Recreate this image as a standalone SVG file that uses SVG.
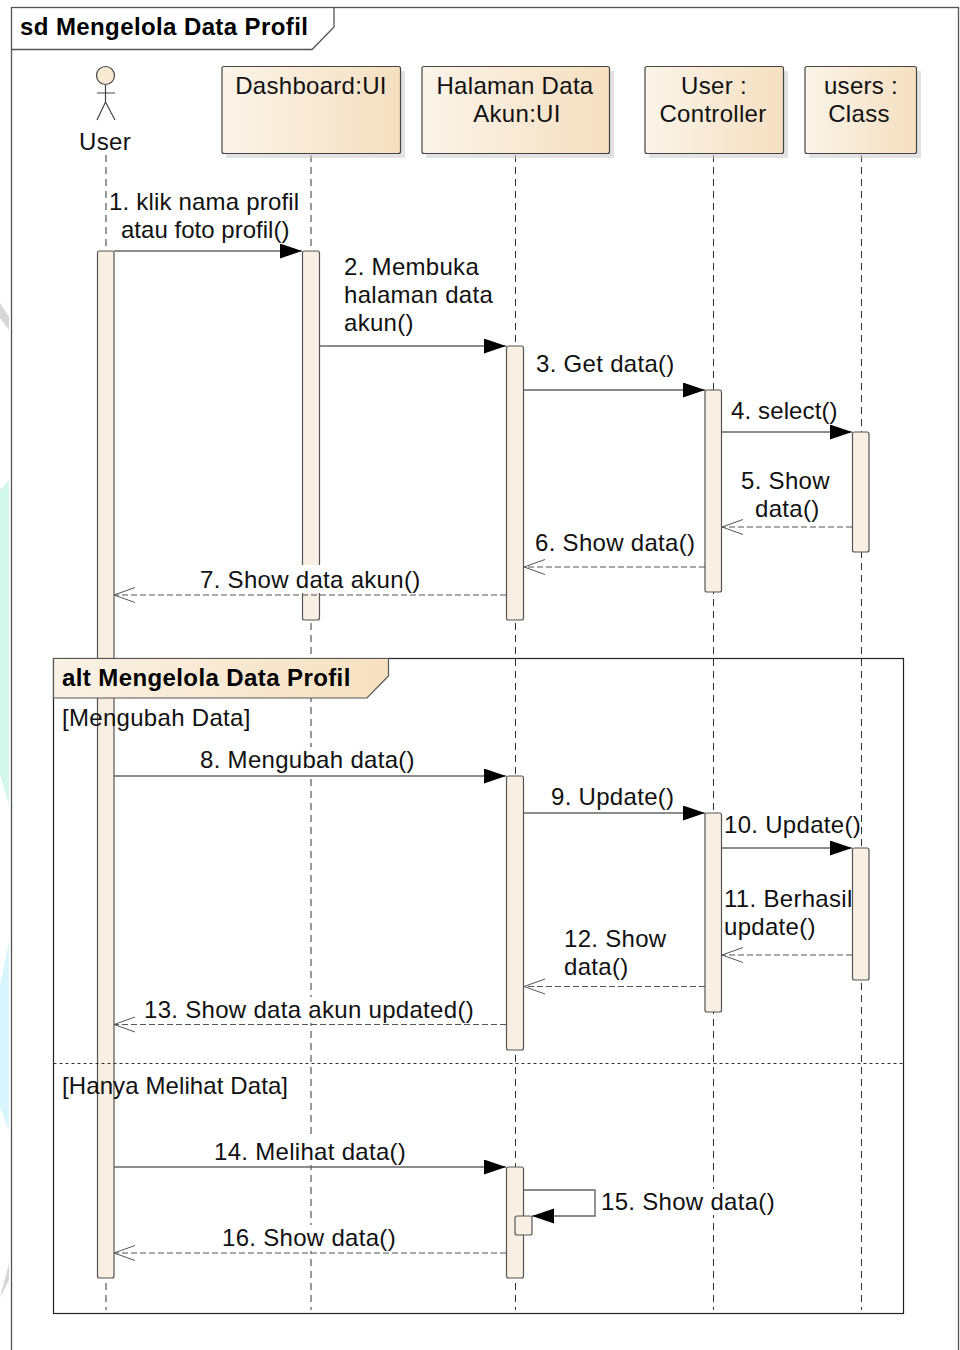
<svg xmlns="http://www.w3.org/2000/svg" width="960" height="1350" viewBox="0 0 960 1350">
<style>
text{font-family:"Liberation Sans",Arial,sans-serif;font-size:24px;letter-spacing:.3px;fill:#111}
.m{text-anchor:middle}
.b{font-weight:bold;font-size:24px;letter-spacing:.4px;fill:#000}
.ll{stroke:#333;stroke-width:1;stroke-dasharray:7 5;fill:none}
.head{stroke:#444;stroke-width:1.2;fill:url(#hg)}
.sh{fill:#cfcfcf;opacity:.6}
.ac{fill:#f9f0e3;stroke:#555;stroke-width:1.2}
.sync{stroke:#666;stroke-width:1.4;fill:none;marker-end:url(#fa)}
.ret{stroke:#555;stroke-width:1.1;stroke-dasharray:6 3;fill:none;marker-end:url(#oa)}
.fr{stroke:#555;stroke-width:1.3;fill:none}
.wb{fill:#fff}
</style>
<defs>
<linearGradient id="hg" x1="0" x2="1" y1="0" y2="0"><stop offset="0" stop-color="#fbf4e9"/><stop offset="1" stop-color="#f5dfc0"/></linearGradient>
<linearGradient id="ag" x1="0" x2="1" y1="0" y2="0"><stop offset="0" stop-color="#faf2e6"/><stop offset="1" stop-color="#f6e0c0"/></linearGradient>
<marker id="fa" markerUnits="userSpaceOnUse" markerWidth="24" markerHeight="16" refX="22" refY="7.500" orient="auto"><path d="M0 0L22 7.500L0 15Z" fill="#000"/></marker>
<marker id="oa" markerUnits="userSpaceOnUse" markerWidth="24" markerHeight="18" refX="22" refY="8" orient="auto"><path d="M1 0.500L22 8L1 15.500" fill="none" stroke="#555" stroke-width="1"/></marker>
</defs>
<rect width="960" height="1350" fill="#fff"/>
<g id="background">
<path d="M0 303L9 317V330L0 318Z" fill="#d6d6d6"/>
<path d="M0 490L9 480V805L0 775Z" fill="#d2f7ea"/>
<path d="M0 985L9 942V1130L0 1108Z" fill="#d8f5fe"/>
<path d="M0 1298L9 1263V1280L0 1298Z" fill="#d6d6d6"/>
</g>
<g id="frame">
<rect x="11.500" y="7.500" width="947" height="1350" class="fr"/>
<path d="M11.500 49.500H312L334 27V7.500" class="fr"/>
<text x="20" y="35" class="b">sd Mengelola Data Profil</text>
</g>
<g id="lifelines">
<path class="ll" d="M106 155V1310M311 155V1310M515.500 155V1310M713.500 155V1310M861.500 155V1310"/>
</g>
<g id="actor-user">
<circle cx="105.500" cy="75.500" r="9" fill="#f8e9d3" stroke="#444" stroke-width="1.200"/>
<path d="M105.500 85V102M97 93H115M97 120L105.500 102L115 120" fill="none" stroke="#444" stroke-width="1.200"/>
<text x="105" y="150" class="m">User</text>
</g>
<g id="obj-dashboard">
<rect x="226" y="71" width="179" height="87" class="sh"/>
<rect x="222" y="66.500" width="178.500" height="87" rx="2" class="head"/>
<text x="311" y="94" class="m">Dashboard:UI</text>
</g>
<g id="obj-halaman">
<rect x="426" y="71" width="188" height="87" class="sh"/>
<rect x="422" y="66.500" width="187.500" height="87" rx="2" class="head"/>
<text x="515" y="94" class="m">Halaman Data</text><text x="517" y="122" class="m">Akun:UI</text>
</g>
<g id="obj-controller">
<rect x="649" y="71" width="139" height="87" class="sh"/>
<rect x="645" y="66.500" width="138.500" height="87" rx="2" class="head"/>
<text x="714" y="94" class="m">User :</text><text x="713" y="122" class="m">Controller</text>
</g>
<g id="obj-class">
<rect x="809" y="71" width="112" height="87" class="sh"/>
<rect x="805" y="66.500" width="111.500" height="87" rx="2" class="head"/>
<text x="861" y="94" class="m">users :</text><text x="859" y="122" class="m">Class</text>
</g>
<g id="activations">
<rect x="97.500" y="251" width="16.500" height="1027" rx="2" class="ac"/>
<rect x="302.500" y="251" width="17" height="369" rx="2" class="ac"/>
<rect x="506.500" y="346" width="17" height="274" rx="2" class="ac"/>
<rect x="705" y="390" width="16.500" height="202" rx="2" class="ac"/>
<rect x="852.500" y="432" width="16.500" height="120" rx="2" class="ac"/>
</g>
<g id="alt-fragment">
<rect x="53.500" y="658.500" width="850" height="655" fill="none" stroke="#222" stroke-width="1.200"/>
<path d="M53.500 658.500H388.500V676L367 698H53.500Z" fill="url(#ag)" stroke="#555" stroke-width="1.200"/>
<text x="62" y="686" class="b">alt Mengelola Data Profil</text>
<path d="M53.500 1063.500H903.500" stroke="#333" stroke-dasharray="3 3" fill="none"/>
<text x="62" y="726">[Mengubah Data]</text>
<text x="62" y="1094" style="letter-spacing:.1px">[Hanya Melihat Data]</text>
</g>
<g id="activations-alt">
<rect x="506.500" y="776" width="17" height="274" rx="2" class="ac"/>
<rect x="705" y="813" width="16.500" height="199" rx="2" class="ac"/>
<rect x="852.500" y="848" width="16.500" height="132" rx="2" class="ac"/>
<rect x="506.500" y="1167" width="17" height="111" rx="2" class="ac"/>
<rect x="515" y="1216" width="17" height="19" rx="2" class="ac"/>
</g>
<g id="label-backs">
<rect class="wb" x="200" y="565" width="220" height="28"/>
<rect class="wb" x="200" y="747" width="216" height="27"/>
<rect class="wb" x="144" y="997" width="330" height="26"/>
<rect class="wb" x="214" y="1139" width="192" height="26"/>
<rect class="wb" x="222" y="1225" width="173" height="26"/>
<rect class="wb" x="601" y="1189" width="173" height="26"/>
</g>
<g id="connectors">
<path class="sync" d="M114 251H302"/>
<path class="sync" d="M320 346H506"/>
<path class="sync" d="M524 390H705"/>
<path class="sync" d="M722 432H852"/>
<path class="ret" d="M852 527H722"/>
<path class="ret" d="M705 567H524"/>
<path class="ret" d="M506 595H114"/>
<path class="sync" d="M114 776H506"/>
<path class="sync" d="M524 813H705"/>
<path class="sync" d="M722 848H852"/>
<path class="ret" d="M852 955H722"/>
<path class="ret" d="M705 986.500H524"/>
<path class="ret" d="M506 1024.500H114"/>
<path class="sync" d="M114 1167H506"/>
<path class="sync" d="M524 1190H595V1216H532"/>
<path class="ret" d="M506 1253H114"/>
</g>
<g id="labels">
<text x="109" y="210" style="letter-spacing:.19px">1. klik nama profil</text>
<text x="121" y="238" style="letter-spacing:.02px">atau foto profil()</text>
<text x="344" y="275">2. Membuka</text>
<text x="344" y="303">halaman data</text>
<text x="344" y="331">akun()</text>
<text x="536" y="372">3. Get data()</text>
<text x="731" y="419" style="letter-spacing:.12px">4. select()</text>
<text x="741" y="489">5. Show</text>
<text x="755" y="517">data()</text>
<text x="535" y="551">6. Show data()</text>
<text x="200" y="588">7. Show data akun()</text>
<text x="200" y="768">8. Mengubah data()</text>
<text x="551" y="805">9. Update()</text>
<text x="724" y="833">10. Update()</text>
<text x="724" y="907">11. Berhasil</text>
<text x="724" y="935">update()</text>
<text x="564" y="947">12. Show</text>
<text x="564" y="975">data()</text>
<text x="144" y="1018">13. Show data akun updated()</text>
<text x="214" y="1160">14. Melihat data()</text>
<text x="601" y="1210">15. Show data()</text>
<text x="222" y="1246">16. Show data()</text>
</g>
</svg>
